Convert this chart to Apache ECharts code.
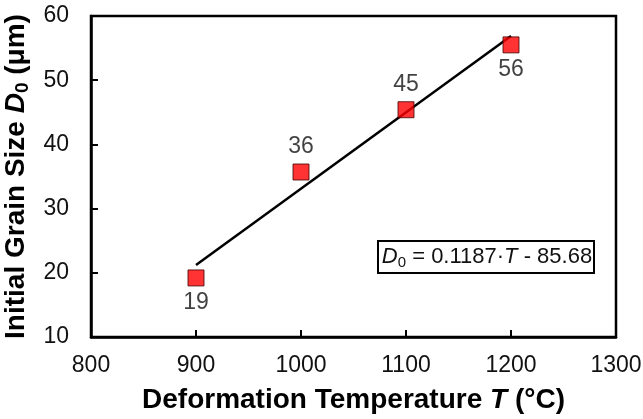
<!DOCTYPE html>
<html>
<head>
    <meta charset="utf-8">
    <title>Initial grain size vs deformation temperature</title>
    <script src="https://cdn.jsdelivr.net/npm/echarts@6/dist/echarts.min.js"></script>
</head>
<body style="margin:0;">
    <div id="main" style="width:643px;height:419px;"></div>
    <script type="text/javascript">
        // measured points
        var temps = [900, 1000, 1100, 1200];
        var sizes = [19.2, 35.7, 45.4, 55.5];
        var pointLabels = ['19', '36', '45', '56'];
        var labelSide = ['bottom', 'top', 'top', 'bottom'];
        // fitted line
        var fitT = [900, 1200];
        var fitD = [21.2, 56.9];

        var xTicks = [800, 900, 1000, 1100, 1200, 1300];
        var yTicks = [10, 20, 30, 40, 50, 60];

        var font = '"Liberation Sans", Arial, sans-serif';
        var ink = '#111';

        var myChart = echarts.init(document.getElementById('main'));

        var points = temps.map(function (t, i) {
            return {
                value: [t, sizes[i]],
                label: { position: labelSide[i], formatter: pointLabels[i] }
            };
        });

        var option = {
            animation: false,
            grid: {
                left: 91, right: 27, top: 16, bottom: 82,
                outerBoundsMode: 'none',
                containLabel: false,
                show: true, borderColor: '#000', borderWidth: 2.5,
                backgroundColor: 'transparent'
            },
            xAxis: {
                type: 'value',
                min: xTicks[0], max: xTicks[xTicks.length - 1], interval: 100,
                name: 'Deformation Temperature {i|T} (°C)',
                nameLocation: 'middle', nameGap: 49,
                nameTextStyle: {
                    fontFamily: font, fontSize: 28, fontWeight: 'bold', color: '#000',
                    rich: { i: { fontFamily: font, fontSize: 28, fontWeight: 'bold', fontStyle: 'italic', color: '#000' } }
                },
                axisLine: { lineStyle: { color: '#000', width: 2.5 } },
                axisTick: { inside: true, length: 7, lineStyle: { color: '#000', width: 2 } },
                axisLabel: {
                    fontFamily: font, fontSize: 23, color: ink, margin: 17,
                    formatter: function (v) { return String(v); }
                },
                splitLine: { show: false }
            },
            yAxis: {
                type: 'value',
                min: yTicks[0], max: yTicks[yTicks.length - 1], interval: 10,
                name: 'Initial Grain Size {i|D}{s|0} (μm)',
                nameLocation: 'middle', nameGap: 44,
                nameTextStyle: {
                    fontFamily: font, fontSize: 28, fontWeight: 'bold', color: '#000',
                    rich: {
                        i: { fontFamily: font, fontSize: 28, fontWeight: 'bold', fontStyle: 'italic', color: '#000' },
                        s: { fontFamily: font, fontSize: 19, fontWeight: 'bold', color: '#000', padding: [14, 0, 0, 0] }
                    }
                },
                axisLine: { lineStyle: { color: '#000', width: 2.5 } },
                axisTick: { inside: true, length: 7, lineStyle: { color: '#000', width: 2 } },
                axisLabel: { fontFamily: font, fontSize: 23, color: ink, margin: 22 },
                splitLine: { show: false }
            },
            series: [
                {
                    type: 'line',
                    data: fitT.map(function (t, i) { return [t, fitD[i]]; }),
                    showSymbol: false,
                    lineStyle: { color: '#000', width: 2.5 },
                    z: 2
                },
                {
                    type: 'scatter',
                    data: points,
                    symbol: 'rect',
                    symbolSize: 16,
                    itemStyle: { color: '#ff0000', borderColor: '#400000', borderWidth: 1 },
                    label: {
                        show: true, distance: 5,
                        fontFamily: font, fontSize: 23, color: ink
                    },
                    z: 3
                }
            ],
            graphic: [
                {
                    type: 'rect',
                    shape: { x: 378, y: 241, width: 216, height: 32 },
                    style: { fill: '#fff', stroke: '#000', lineWidth: 2 },
                    z: 10
                },
                {
                    type: 'text',
                    x: 487, y: 257,
                    style: {
                        text: '{i|D}{s|0} = 0.1187·{i|T} - 85.68',
                        align: 'center', verticalAlign: 'middle',
                        fontFamily: font, fontSize: 22, fill: ink,
                        rich: {
                            i: { fontFamily: font, fontSize: 22, fontStyle: 'italic', fill: ink },
                            s: { fontFamily: font, fontSize: 15, fill: ink, padding: [11, 0, 0, 0] }
                        }
                    },
                    z: 11
                }
            ]
        };

        myChart.setOption(option);
    </script>
</body>
</html>
